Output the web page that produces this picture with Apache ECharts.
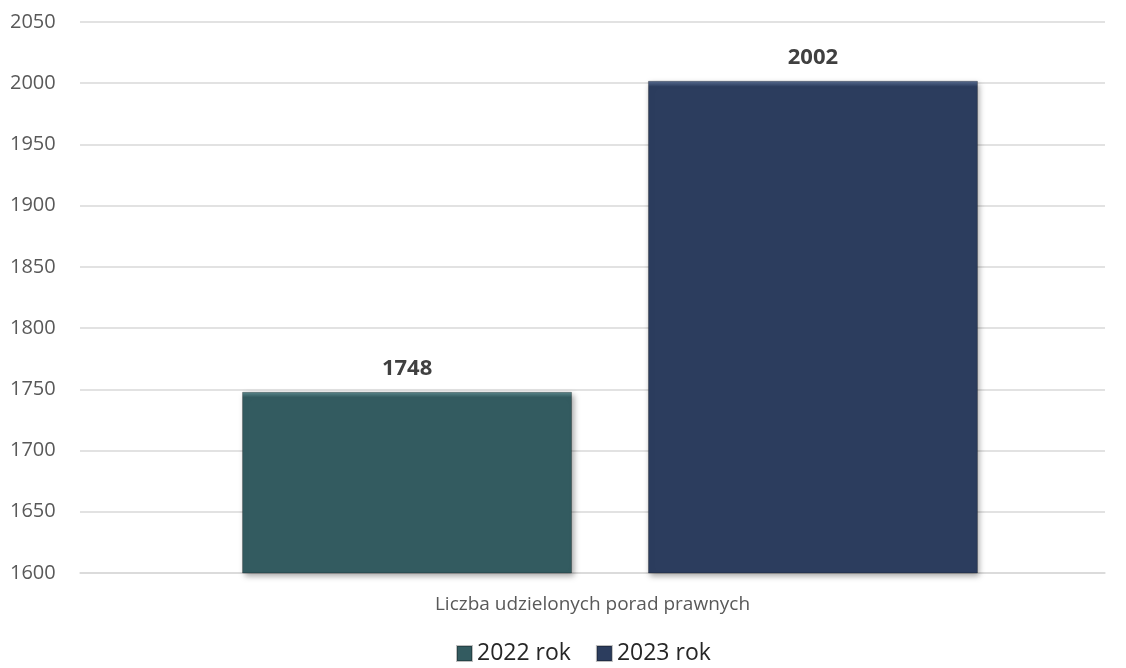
<!DOCTYPE html>
<html>
<head>
<meta charset="utf-8">
<script src="https://cdn.jsdelivr.net/npm/echarts@6/dist/echarts.min.js"></script>
<style>html,body{margin:0;padding:0;background:#fff}#c{width:1126px;height:668px}</style>
</head>
<body>
<div id="c"></div>
<script>
const categories = ['Liczba udzielonych porad prawnych'];
const seriesNames = ['2022 rok', '2023 rok'];
const values2022 = [1748];
const values2023 = [2002];
const yTicks = { min: 1600, max: 2050, interval: 50 };

const font = '"Open Sans", "Noto Sans", sans-serif';
const chart = echarts.init(document.getElementById('c'));

function grad(base, light, stop) {
  return new echarts.graphic.LinearGradient(0, 0, 0, 1, [
    { offset: 0, color: light },
    { offset: stop, color: base },
    { offset: 1, color: base }
  ]);
}
function mkSeries(name, data, color) {
  return {
    name: name, type: 'bar', data: data, barWidth: 330, barGap: '23%',
    xAxisIndex: 1, yAxisIndex: 1,
    itemStyle: {
      color: color,
      borderColor: 'rgba(0,0,0,0.25)', borderWidth: 1,
      shadowColor: 'rgba(0,0,0,0.35)', shadowBlur: 6, shadowOffsetX: 2, shadowOffsetY: 3
    },
    label: {
      show: true, position: 'top', distance: 12,
      fontFamily: font, fontWeight: 'bold', fontSize: 22, color: '#404040'
    }
  };
}
chart.setOption({
  animation: false,
  grid: [
    { left: 80, right: 21, top: 22, bottom: 95 },
    { left: 98, right: 4, top: 22, bottom: 95 }
  ],
  legend: {
    bottom: -2, left: 451, icon: 'rect', itemWidth: 15, itemHeight: 15, itemGap: 25,
    textStyle: { fontFamily: font, fontSize: 23, color: '#262626' },
    data: [
      { name: seriesNames[0], itemStyle: { color: '#335B60' } },
      { name: seriesNames[1], itemStyle: { color: '#2C3D5E' } }
    ]
  },
  xAxis: [
    {
      type: 'category', data: categories, gridIndex: 0,
      axisLine: { lineStyle: { color: '#d9d9d9', width: 1.5 } },
      axisTick: { show: false },
      axisLabel: { fontFamily: font, fontSize: 19, color: '#595959', margin: 22 }
    },
    {
      type: 'category', data: categories, gridIndex: 1, show: false
    }
  ],
  yAxis: [
    {
      type: 'value', gridIndex: 0, min: yTicks.min, max: yTicks.max, interval: yTicks.interval,
      axisLine: { show: false }, axisTick: { show: false },
      splitLine: { lineStyle: { color: '#d9d9d9', width: 1.5 } },
      axisLabel: { fontFamily: font, fontSize: 20, color: '#595959', margin: 70, align: 'left',
        formatter: v => String(v) }
    },
    {
      type: 'value', gridIndex: 1, min: yTicks.min, max: yTicks.max, interval: yTicks.interval,
      show: false, splitLine: { show: false }
    }
  ],
  series: [
    mkSeries(seriesNames[0], values2022, grad('#335B60', '#5E8A8E', 0.03)),
    mkSeries(seriesNames[1], values2023, grad('#2C3D5E', '#5A6E92', 0.012))
  ]
});
</script>
</body>
</html>
